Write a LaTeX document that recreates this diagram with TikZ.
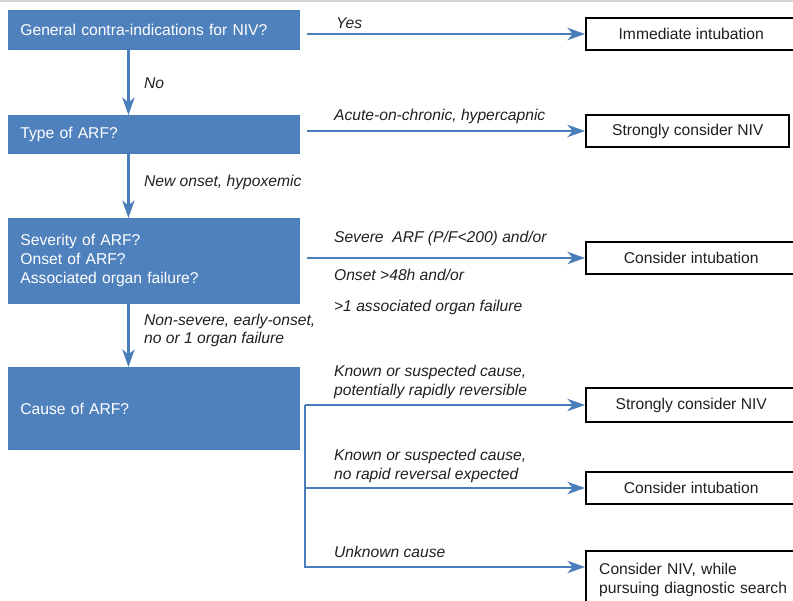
\documentclass[tikz,border=0pt]{standalone}
\usepackage{fontspec}
\setmainfont{Liberation Sans}
\usetikzlibrary{arrows.meta,positioning,calc}
\definecolor{ink}{HTML}{231F20}
\definecolor{qb}{HTML}{4F81BD}
\definecolor{qbd}{HTML}{4A7EBB}
\definecolor{ln}{HTML}{4A7EBB}
\definecolor{pline}{HTML}{D6D6D6}
\tikzset{
  qbox/.style={draw=qbd,fill=qb,line width=0.5pt,minimum width=5.82cm,text width=5.34cm,align=left,inner xsep=0.24cm,inner ysep=2pt,font=\fontsize{8.9}{10.8}\selectfont,text=white,anchor=north west},
  rbox/.style={draw=black,fill=white,line width=1.4pt,minimum width=4.2cm,minimum height=0.65cm,align=center,inner sep=2pt,font=\fontsize{8.9}{10.8}\selectfont,text=ink,anchor=west},
  flow/.style={-{Stealth[length=10pt,width=7pt,inset=3pt]},line width=1.3pt,ln},
  lab/.style={font=\itshape\fontsize{8.9}{10.6}\selectfont,inner sep=1pt,text=ink,anchor=west,align=left}
}

\begin{document}
\begin{tikzpicture}[x=1cm,y=1cm]
\useasboundingbox (0,0) rectangle (15.86,12.02);
\clip (0,0) rectangle (15.86,12.02);
\draw[pline,line width=0.7pt] (0,12.0) -- (15.86,12.0);
% ===================== questions, left column =====================
\node[qbox,minimum height=0.78cm] (contra) at (0.16,11.82) {General contra-indications for NIV?};
\node[qbox,minimum height=0.76cm] (type)   at (0.16,9.72)  {Type of ARF?};
\node[qbox,minimum height=1.70cm] (sev)    at (0.16,7.66)  {Severity of ARF?\\Onset of ARF?\\Associated organ failure?};
\node[qbox,minimum height=1.64cm] (cause)  at (0.16,4.68)  {Cause of ARF?};
% ===================== decisions, right column =====================
\node[rbox] (immed)  at (11.70,11.34) {Immediate intubation};
\node[rbox,minimum width=4.06cm] (niv) at (11.70,9.40) {Strongly consider NIV};
\node[rbox] (intub)  at (11.70,6.86)  {Consider intubation};
\node[rbox,minimum height=0.68cm] (fast) at (11.70,3.92) {Strongly consider NIV};
\node[rbox] (slow)   at (11.70,2.26)  {Consider intubation};
\node[rbox,anchor=north west,align=left,text width=3.9cm,inner xsep=0.26cm,inner ysep=0.24cm] (search) at (11.70,1.02) {Consider NIV, while\\pursuing diagnostic search};
% ===================== down the questions =====================
\draw[flow] ([xshift=-0.51cm]contra.south) -- ([xshift=-0.51cm]type.north);
\draw[flow] ([xshift=-0.51cm]type.south) -- ([xshift=-0.51cm]sev.north);
\draw[flow] ([xshift=-0.51cm]sev.south) -- ([xshift=-0.51cm]cause.north);
\node[lab] at (2.84,10.36) {No};
\node[lab] at (2.84,8.38) {New onset, hypoxemic};
\node[lab] at (2.84,5.41) {Non-severe, early-onset,\\no or 1 organ failure};
% ===================== out to the decisions =====================
\draw[flow] ([xshift=0.14cm]contra.east |- immed.west) -- (immed.west);
\draw[flow] ([xshift=0.14cm]type.east |- niv.west) -- (niv.west);
\draw[flow] ([xshift=0.14cm]sev.east |- intub.west) -- (intub.west);
\node[lab] at (6.68,11.56) {Yes};
\node[lab] at (6.64,9.70) {Acute-on-chronic, hypercapnic};
\node[lab] at (6.64,7.26) {Severe\ \ ARF (P/F<200) and/or};
\node[lab] at (6.64,6.52) {Onset >48h and/or};
\node[lab] at (6.64,5.88) {>1 associated organ failure};
% the cause fans out over three branches
\coordinate (fork) at ([xshift=0.10cm]cause.east |- fast.west);
\draw[flow] (fork) -- (fast.west);
\draw[flow] (fork |- slow.west) -- (slow.west);
\draw[flow] (fork) |- ([yshift=-0.34cm]search.north west);
\node[lab] at (6.64,4.38) {Known or suspected cause,\\potentially rapidly reversible};
\node[lab] at (6.64,2.70) {Known or suspected cause,\\no rapid reversal expected};
\node[lab] at (6.64,0.98) {Unknown cause};
\end{tikzpicture}
\end{document}
